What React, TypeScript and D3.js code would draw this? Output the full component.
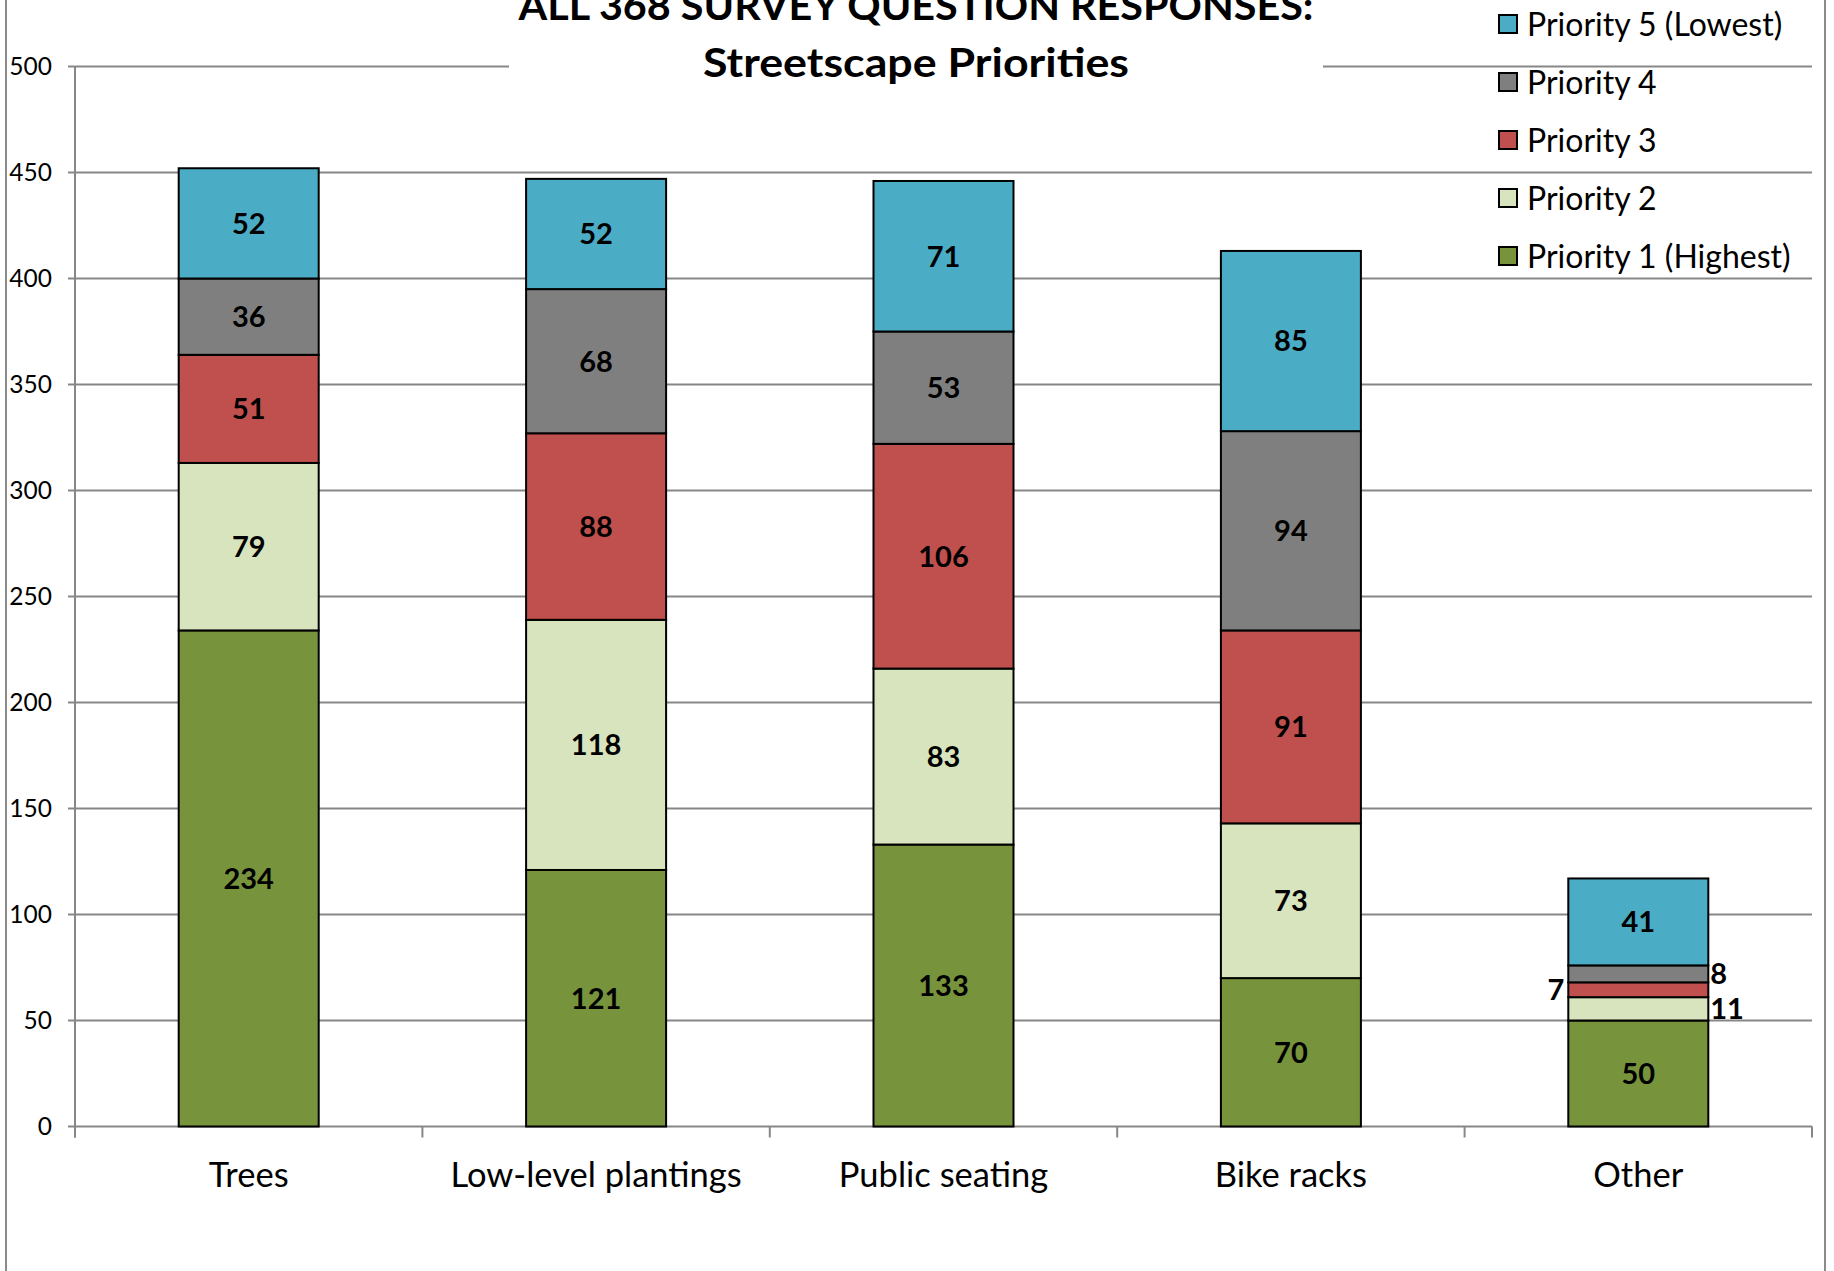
import React from "react";
import * as d3 from "d3";

const categories = ["Trees", "Low-level plantings", "Public seating", "Bike racks", "Other"];
const priority1 = [234, 121, 133, 70, 50];
const priority2 = [79, 118, 83, 73, 11];
const priority3 = [51, 88, 106, 91, 7];
const priority4 = [36, 68, 53, 94, 8];
const priority5 = [52, 52, 71, 85, 41];
const seriesNames = ["Priority 1 (Highest)", "Priority 2", "Priority 3", "Priority 4", "Priority 5 (Lowest)"];
const seriesColors = ["#77933C", "#D7E4BD", "#C0504D", "#7F7F7F", "#4BACC6"];
const yTicks = [0, 50, 100, 150, 200, 250, 300, 350, 400, 450, 500];
const titleLines = ["ALL 368 SURVEY QUESTION RESPONSES:", "Streetscape Priorities"];
const titleWidths = [795, 426];

const W = 1834;
const H = 1271;
const X0 = 75;
const X1 = 1812;
const Y0 = 1126.5;
const Y1 = 66.5;
const FONT = "Lato, 'Open Sans', sans-serif";
const GRID = "#878787";

export default function App() {
  const series = [priority1, priority2, priority3, priority4, priority5];
  const rows = categories.map((c, i) => {
    const r: any = { cat: c };
    seriesNames.forEach((s, k) => (r[s] = series[k][i]));
    return r;
  });
  const stacked = d3.stack().keys(seriesNames)(rows);
  const x = d3.scaleBand().domain(categories).range([X0, X1]).paddingInner(0.597).paddingOuter(0.2985);
  const y = d3.scaleLinear().domain([0, 500]).range([Y0, Y1]);
  const step = (X1 - X0) / categories.length;

  return (
    <svg width={W} height={H} style={{ position: "absolute", left: 0, top: 0, background: "#fff" }} fontFamily={FONT}>
      <rect x={0} y={0} width={W} height={H} fill="#fff" />
      {/* chart border */}
      <rect x={6} y={-20} width={1819} height={H + 40} fill="none" stroke="#8a8a8a" strokeWidth={2} />
      {/* gridlines */}
      {yTicks.map((t) => (
        <line key={t} x1={X0 - 7} x2={X1} y1={y(t)} y2={y(t)} stroke={GRID} strokeWidth={2} />
      ))}
      {/* y axis */}
      <line x1={X0} x2={X0} y1={Y1} y2={Y0 + 11} stroke={GRID} strokeWidth={2} />
      {d3.range(categories.length + 1).map((i) => (
        <line key={i} x1={X0 + i * step} x2={X0 + i * step} y1={Y0} y2={Y0 + 11} stroke={GRID} strokeWidth={2} />
      ))}
      {yTicks.map((t) => (
        <text key={t} x={52} y={y(t)} dy="0.36em" textAnchor="end" fontSize={24.5} fill="#000">
          {t}
        </text>
      ))}
      {/* title box */}
      <rect x={509} y={-10} width={814} height={100} fill="#fff" />
      {titleLines.map((l, i) => (
        <text
          key={i}
          x={916}
          y={20 + i * 57}
          textAnchor="middle"
          fontSize={41}
          fontWeight="bold"
          fill="#000"
          textLength={titleWidths[i]}
          lengthAdjust="spacingAndGlyphs"
        >
          {l}
        </text>
      ))}
      {/* bars */}
      {stacked.map((s, k) =>
        s.map((d, i) => (
          <rect
            key={k + "-" + i}
            x={x(categories[i])}
            y={y(d[1])}
            width={x.bandwidth()}
            height={y(d[0]) - y(d[1])}
            fill={seriesColors[k]}
            stroke="#000"
            strokeWidth={2}
          />
        ))
      )}
      {/* data labels */}
      {stacked.map((s, k) =>
        s.map((d, i) => {
          const v = d[1] - d[0];
          const cy = y((d[0] + d[1]) / 2);
          const bx = x(categories[i])!;
          const small = y(d[0]) - y(d[1]) < 30;
          let tx = bx + x.bandwidth() / 2;
          let anchor = "middle";
          if (small) {
            if (k === 2) {
              tx = bx - 4;
              anchor = "end";
            } else {
              tx = bx + x.bandwidth() + 2;
              anchor = "start";
            }
          }
          return (
            <text key={"l" + k + "-" + i} x={tx} y={cy} dy="0.36em" textAnchor={anchor} fontSize={29} fontWeight="bold" fill="#000">
              {v}
            </text>
          );
        })
      )}
      {/* category labels */}
      {categories.map((c) => (
        <text key={c} x={x(c)! + x.bandwidth() / 2} y={1187} textAnchor="middle" fontSize={34.5} fill="#000">
          {c}
        </text>
      ))}
      {/* legend */}
      {seriesNames
        .slice()
        .reverse()
        .map((s, j) => {
          const k = seriesNames.length - 1 - j;
          const cy = 24 + j * 58;
          return (
            <g key={s}>
              <rect x={1499} y={cy - 9} width={18} height={18} fill={seriesColors[k]} stroke="#000" strokeWidth={2} />
              <text x={1527} y={cy} dy="0.36em" fontSize={32} fill="#000">
                {s}
              </text>
            </g>
          );
        })}
    </svg>
  );
}
